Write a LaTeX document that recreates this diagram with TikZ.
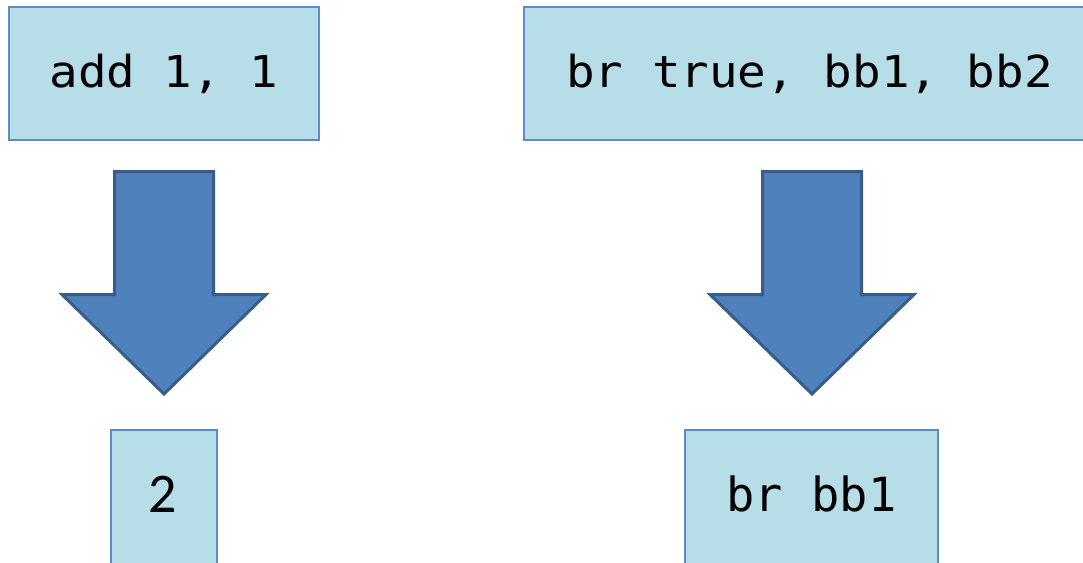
\documentclass[tikz,border=0pt]{standalone}
\usepackage{fontspec}
\newfontfamily\monofont[FakeStretch=1.08]{DejaVu Sans Mono}
\newfontfamily\monofontb{DejaVu Sans Mono}
\newfontfamily\calfont{Carlito}
\definecolor{boxfill}{HTML}{B7DDE8}
\definecolor{boxline}{HTML}{5B8BC9}
\definecolor{arrfill}{HTML}{4F81BD}
\definecolor{arrline}{HTML}{385D8A}
\tikzset{
  codebox/.style={draw=boxline, line width=1.3pt, fill=boxfill, inner sep=0pt, text=black, font=\monofont\fontsize{44}{50}\selectfont},
  blockarrow/.style={draw=arrline, line width=3pt, fill=arrfill, line join=miter},
}
\begin{document}
\begin{tikzpicture}[x=1pt,y=-1pt]
\useasboundingbox (0,0) rectangle (1083,562);
\clip (0,0) rectangle (1083,562);
% top boxes
\node[codebox, minimum width=310pt, minimum height=133pt] (add) at (164,73.5) {add 1, 1};
\node[codebox, minimum width=571pt, minimum height=133pt] (br) at (809.5,73.5) {br true, bb1, bb2};
% bottom boxes
\node[codebox, minimum width=106pt, minimum height=136pt] (two) at (164,498) {};
\node[font=\calfont\fontsize{56}{60}\selectfont] (twotext) at (163,494) {2};
\node[codebox, minimum width=253pt, minimum height=136pt] (brbb) at (811.5,498) {};
\node[font=\monofontb\fontsize{47}{52}\selectfont] (brbbtext) at (811.5,494) {br bb1};
% block arrows
\foreach \cx/\nm in {164/arrL, 812/arrR}{
  \draw[blockarrow] (\cx-49.5,171.5) -- (\cx+49.5,171.5) -- (\cx+49.5,294.5) -- (\cx+102,294.5)
    -- (\cx,394) -- (\cx-102,294.5) -- (\cx-49.5,294.5) -- cycle;
}
\end{tikzpicture}
\end{document}
